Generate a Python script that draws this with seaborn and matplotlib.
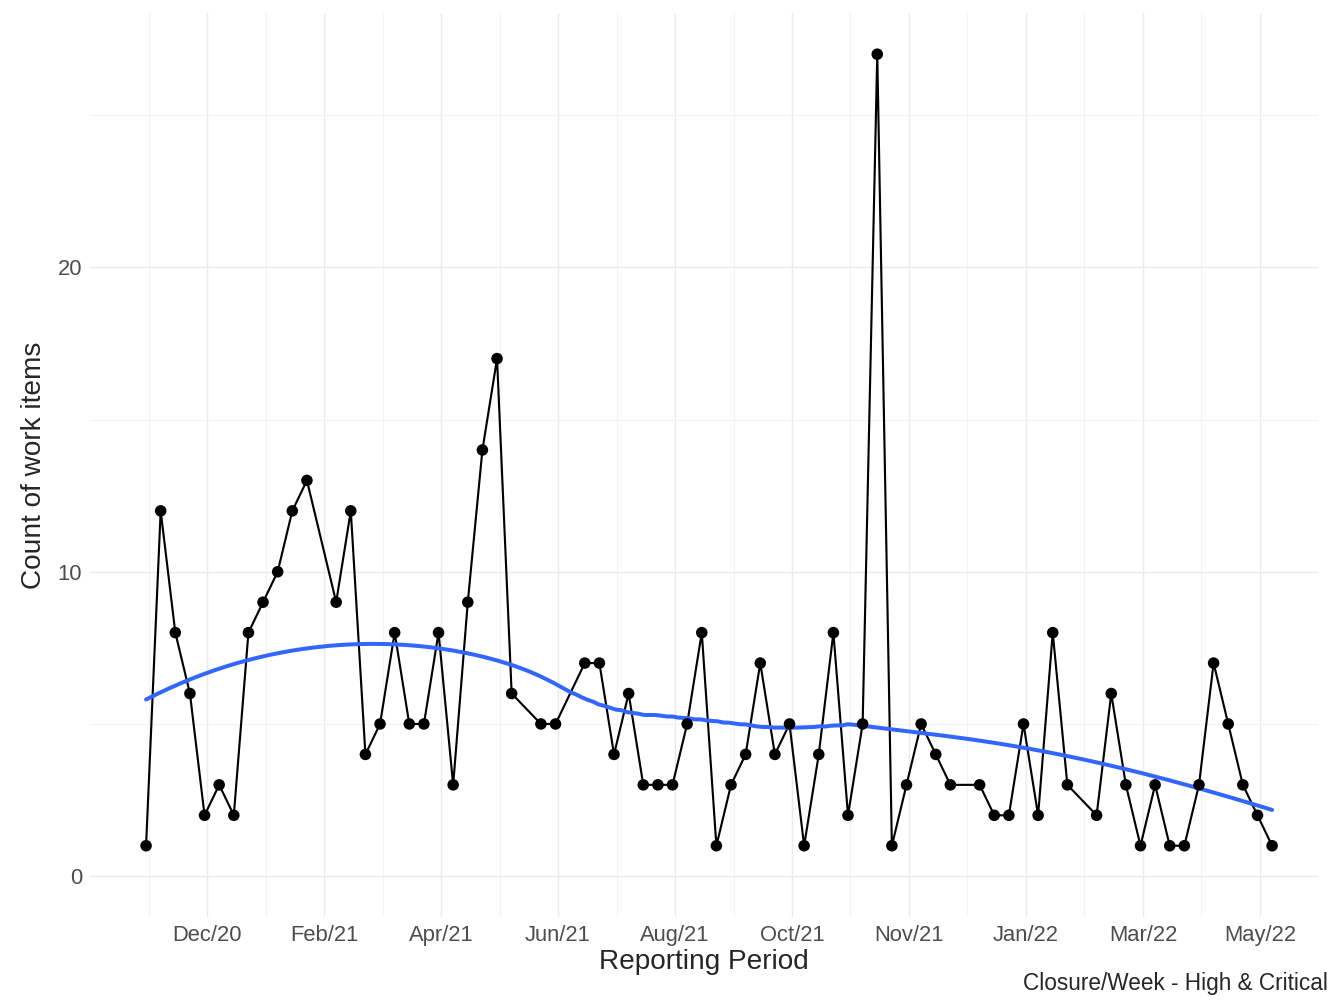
"""
plot.py

Closure/Week - High & Critical, amb corba loess.
"""

import matplotlib
matplotlib.use("Agg")
import matplotlib.pyplot as plt
import numpy as np
import pandas as pd
import seaborn as sns

# Setmanes (índex) i recompte
week = [0, 1, 2, 3, 4, 5, 6, 7, 8, 9, 10, 11,
        13, 14, 15, 16, 17, 18, 19, 20, 21, 22, 23, 24, 25,
        27, 28, 30, 31, 32, 33, 34, 35, 36, 37, 38, 39, 40, 41, 42, 43, 44,
        45, 46, 47, 48, 49, 50, 51, 52, 53, 54, 55,
        57, 58, 59, 60, 61, 62, 63,
        65, 66, 67, 68, 69, 70, 71, 72, 73, 74, 75, 76, 77]
count = [1, 12, 8, 6, 2, 3, 2, 8, 9, 10, 12, 13,
         9, 12, 4, 5, 8, 5, 5, 8, 3, 9, 14, 17, 6,
         5, 5, 7, 7, 4, 6, 3, 3, 3, 5, 8, 1, 3, 4, 7, 4, 5,
         1, 4, 8, 2, 5, 27, 1, 3, 5, 4, 3,
         3, 2, 2, 5, 2, 8, 3,
         2, 6, 3, 1, 3, 1, 1, 3, 7, 5, 3, 2, 1]

tick_pos = [4.17 + 8 * k for k in range(10)]
tick_labels = ["Dec/20", "Feb/21", "Apr/21", "Jun/21", "Aug/21",
               "Oct/21", "Nov/21", "Jan/22", "Mar/22", "May/22"]


def loess(x, y, xs, span=0.75):
    # loess de grau 2 amb pes tricúbic (com geom_smooth)
    x = np.asarray(x, float)
    y = np.asarray(y, float)
    q = int(np.ceil(span * len(x)))
    out = []
    for x0 in xs:
        d = np.abs(x - x0)
        h = np.sort(d)[q - 1]
        w = np.clip(1 - (d / h) ** 3, 0, None) ** 3
        X = np.vstack([np.ones_like(x), x - x0, (x - x0) ** 2]).T
        W = np.diag(w)
        beta = np.linalg.solve(X.T @ W @ X, X.T @ W @ y)
        out.append(beta[0])
    return np.array(out)


df = pd.DataFrame({"week": week, "count": count})
xs = np.linspace(min(week), max(week), 200)
smooth = pd.DataFrame({"week": xs, "fit": loess(week, count, xs)})

sns.set_theme(style="whitegrid")
plt.rcParams["font.family"] = ["Liberation Sans", "DejaVu Sans"]

fig, ax = plt.subplots(figsize=(14, 10.5), dpi=96)
fig.subplots_adjust(left=0.067, right=0.981, top=0.987, bottom=0.09)

sns.lineplot(data=df, x="week", y="count", color="black", linewidth=1.6, ax=ax)
sns.scatterplot(data=df, x="week", y="count", color="black", s=75,
                edgecolor="none", ax=ax, zorder=3)
sns.lineplot(data=smooth, x="week", y="fit", color="#3366FF", linewidth=3, ax=ax)

ax.set_xlim(-3.83, 80.17)
ax.set_ylim(-1.35, 28.35)
ax.set_xticks(tick_pos)
ax.set_xticklabels(tick_labels)
ax.set_xticks([p - 4 for p in tick_pos] + [tick_pos[-1] + 4], minor=True)
ax.set_yticks([0, 10, 20])
ax.set_yticks([5, 15, 25], minor=True)

for s in ax.spines.values():
    s.set_visible(False)
ax.grid(which="major", color="#EBEBEB", linewidth=1.1)
ax.grid(which="minor", color="#F3F3F3", linewidth=0.8)
ax.tick_params(which="both", length=0, labelsize=16.5, labelcolor="#4D4D4D", pad=6)

ax.set_xlabel("Reporting Period", fontsize=21, labelpad=2)
ax.set_ylabel("Count of work items", fontsize=21, labelpad=8)
fig.text(0.988, 0.018, "Closure/Week - High & Critical", ha="right", fontsize=17)

fig.savefig("out.png", dpi=96)
